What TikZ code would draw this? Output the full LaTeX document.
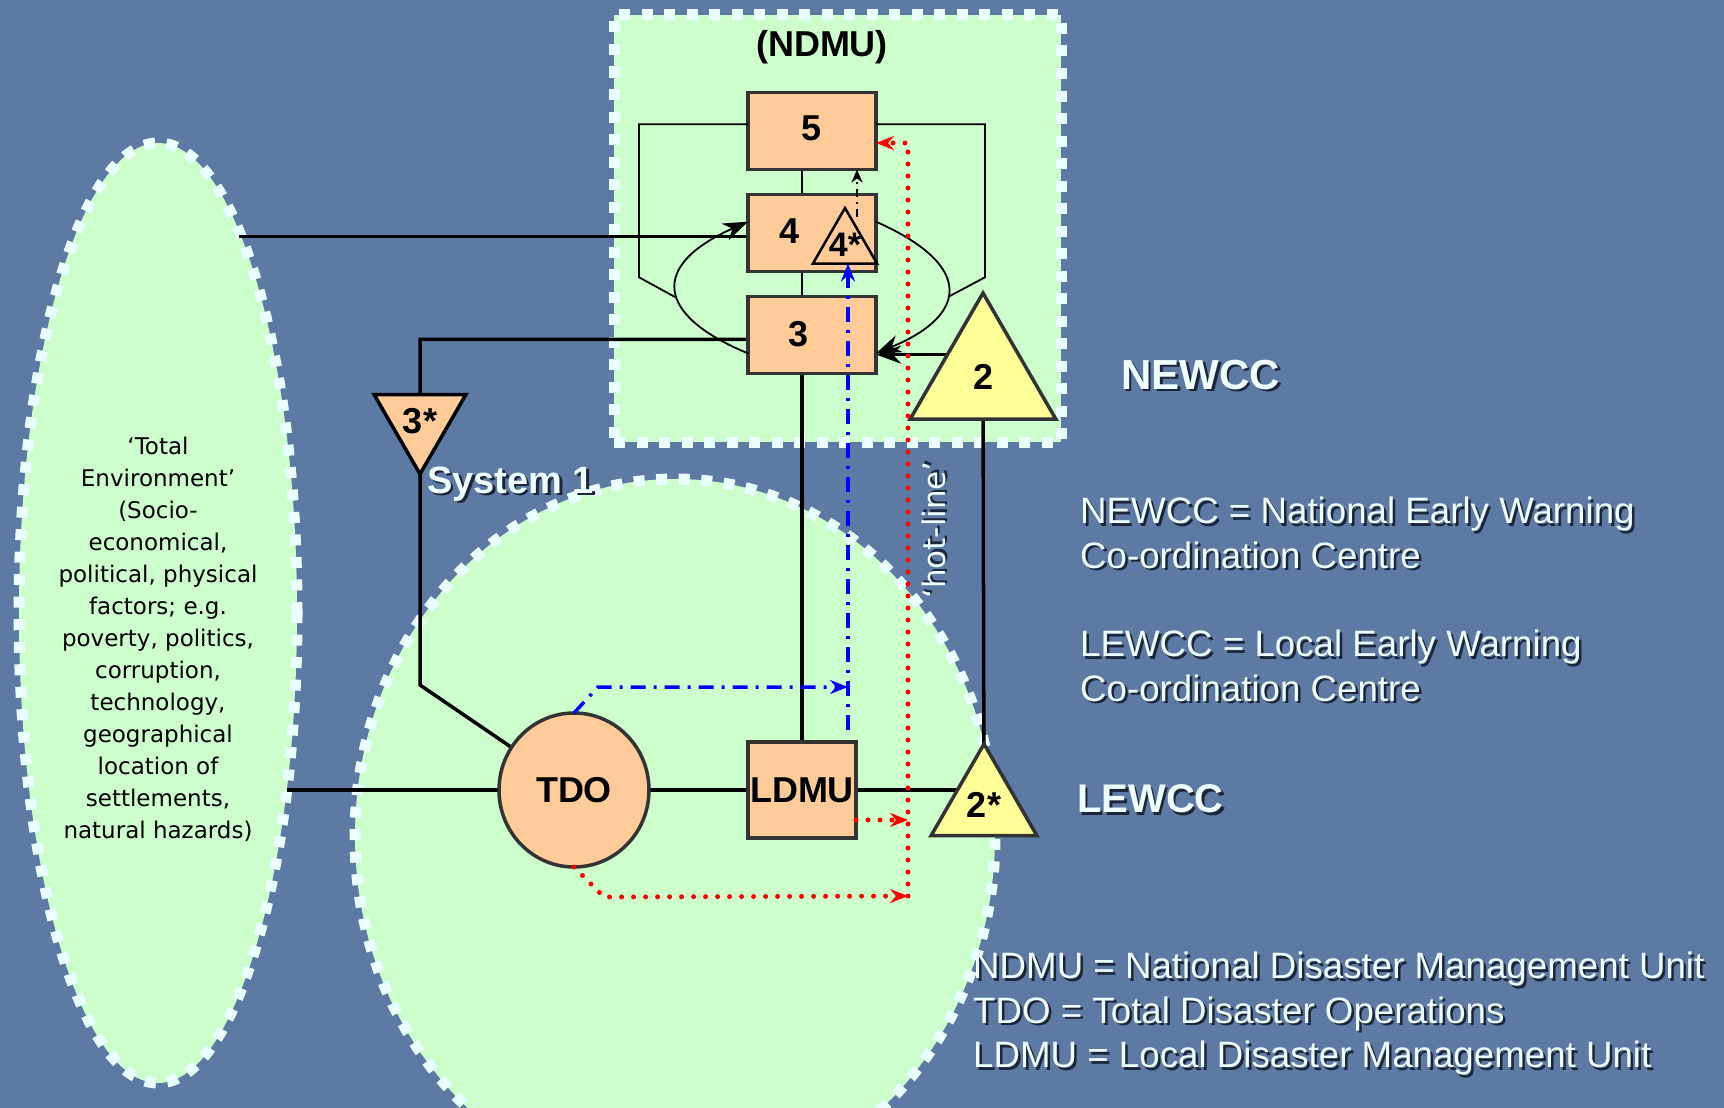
\documentclass[tikz,border=0pt]{standalone}
\usepackage{fontspec}
\setmainfont{Liberation Sans}
\newfontfamily\verdfont{DejaVu Sans}
\usetikzlibrary{arrows.meta,positioning,calc,shapes.geometric,backgrounds}
\definecolor{slate}{RGB}{92,122,164}
\definecolor{zonegreen}{RGB}{204,255,204}
\definecolor{dashwhite}{RGB}{234,255,255}
\definecolor{peach}{RGB}{255,204,153}
\definecolor{lemon}{RGB}{255,255,153}
\definecolor{edge}{RGB}{51,51,51}
\definecolor{shade}{RGB}{28,38,58}
\definecolor{paper}{RGB}{238,255,255}
\newcommand{\shd}[1]{\leavevmode\rlap{\kern2.5pt\raisebox{-2.5pt}{\color{shade}#1}}#1}
\newcommand{\labfont}{\fontsize{36}{40}\selectfont\bfseries}
\newcommand{\deffont}{\fontsize{36.7}{44.5}\selectfont}

\begin{document}
\begin{tikzpicture}[x=1pt,y=-1pt,
box/.style={rectangle,draw=edge,line width=3.5pt,fill=peach,outer sep=0pt,inner sep=0pt,
  minimum width=128pt,minimum height=77pt,font=\labfont},
tri/.style={regular polygon,regular polygon sides=3,draw=edge,line width=3.5pt,
  inner sep=0pt,outer sep=0pt,font=\labfont},
zone/.style={draw=dashwhite,fill=zonegreen,line width=11pt,dash pattern=on 11pt off 11.5pt,
  inner sep=0pt,outer sep=0pt},
wire/.style={line width=3.5pt},
fine/.style={line width=1.8pt},
hot/.style={red,line width=5pt,line cap=round,dash pattern=on 0pt off 12pt},
alert/.style={blue,line width=3.5pt,dash pattern=on 15pt off 8pt on 3pt off 8pt},
probe/.style={line width=2.5pt,dash pattern=on 8pt off 5pt on 2pt off 5pt},
whitetext/.style={text=paper,inner sep=0pt,anchor=west},
>={Stealth[length=25pt,width=18pt,inset=8pt]}]
\useasboundingbox (0,0) rectangle (1724,1108);
\node[box] (box5) at (812,131) {\raisebox{5pt}{5}};
\node[box] (box4) at (812,233) {\raisebox{4pt}{4}\hspace*{44pt}};
\node[box] (box3) at (812,335) {\raisebox{3pt}{3}\hspace*{26pt}};
\node[tri,draw=black,line width=2.5pt,minimum size=74pt,
  label={[font=\fontsize{34}{36}\selectfont\bfseries,inner sep=0pt]center:4*}] (t4s) at (845,245) {};
\node[tri,fill=lemon,minimum size=168pt] (t2) at (983,377) {2};
\node[tri,fill=lemon,minimum size=122pt] (t2s) at (984,805) {2*};
\node[tri,fill=peach,draw=black,shape border rotate=180,minimum size=106pt] (t3s) at (420,421) {3*};
\node[ellipse,draw=edge,line width=3.5pt,fill=peach,minimum width=150pt,minimum height=154pt,
  inner sep=0pt,outer sep=0pt,font=\labfont] (tdo) at (574,790) {TDO};
\node[box,minimum width=108pt,minimum height=96pt] (ldmu) at (802,790) {LDMU};
\coordinate (k3) at (420,685);
\coordinate (k4) at (857,217);
\coordinate (bh) at (848,687);
\coordinate (bl) at (848,730);
\coordinate (hb) at (908,896);
\coordinate (ht) at (908,143);
\coordinate (lj) at (675,297);
\coordinate (rj) at (948,297);

\begin{scope}[on background layer]
\fill[slate] (0,0) rectangle (1724,1108);
\node[zone,ellipse,minimum width=278pt,minimum height=940pt] (env) at (158,613) {};
\node[zone,ellipse,minimum width=640pt,minimum height=714pt] (sys) at (675,836) {};
\node[zone,rectangle,minimum width=447pt,minimum height=427pt] (ndmu) at (837.5,228.5) {};
\draw[wire] (box4.183 -| env.78) -- (box4.183);
\draw[wire] (tdo -| env.-54) -- (tdo) -- (ldmu) -- (ldmu -| t2s);
\draw[wire] (box3.184) -| (t3s) -- (k3) -- (tdo);
\draw[wire] (ldmu.north) -- (ldmu.north |- box3.south);
\draw[wire,->] (box3.-17 -| t2) -- (box3.-17);
\draw[wire] (t2) -- (t2s);
\draw[line width=2pt] (box5.south -| ldmu) -- (box4.north -| ldmu);
\draw[line width=2pt] (box4.south -| ldmu) -- (box3.north -| ldmu);
\end{scope}

\draw[fine] (box5.174) -| ++(-109,153) -- (lj);
\draw[fine] (box5.6) -| ++(109,153) -- (rj);
\draw[fine,->] (box3.196) .. controls (655,315) and (650,265) .. (box4.170);
\draw[fine,->] (box4.10) .. controls (974,265) and (969,315) .. (box3.-16);
\draw[probe,-{Stealth[length=13pt,width=11pt,inset=4pt]}] (k4) -- (k4 |- box5.south);
\draw[alert,-{Stealth[length=18pt,width=14pt,inset=6pt]}] (tdo.north) -- ++(24,-26) -- (bh);
\draw[alert,-{Stealth[length=18pt,width=14pt,inset=6pt]}] (bl) -- (bl |- t4s.side 2);
\draw[hot,-{Stealth[length=18pt,width=14pt,inset=6pt]}] (tdo.south) -- ++(30,30) -- (hb);
\draw[hot,-{Stealth[length=18pt,width=14pt,inset=6pt]}] (ldmu.-29) -- (ldmu.-29 -| hb);
\draw[hot,-{Stealth[length=18pt,width=14pt,inset=6pt]}] (hb) -- (ht) -- (ht -| box5.east);

\node[font=\labfont,inner sep=0pt] (ndmutitle) at (822,47) {(NDMU)};
\node[whitetext,font=\fontsize{38}{40}\selectfont\bfseries] (sys1) at (427,485) {\shd{System 1}};
\node[whitetext,font=\fontsize{42}{44}\selectfont\bfseries] (newcc) at (1121,376) {\shd{NEWCC}};
\node[whitetext,font=\fontsize{40}{44}\selectfont\bfseries] (lewcc) at (1077,800) {\shd{LEWCC}};
\node[text=paper,inner sep=0pt,rotate=90,font={\verdfont\fontsize{31}{33}\selectfont}] (hotline) at (935,530) {\shd{‘hot-line’}};
\node[whitetext,font=\deffont,align=left] (newdef) at (1080,534)
  {\shd{NEWCC = National Early Warning}\\\shd{Co-ordination Centre}};
\node[whitetext,font=\deffont,align=left] (lewdef) at (1080,667)
  {\shd{LEWCC = Local Early Warning}\\\shd{Co-ordination Centre}};
\node[whitetext,font=\deffont,align=left] (abbr) at (973,1015)
  {\shd{NDMU = National Disaster Management Unit}\\\shd{TDO = Total Disaster Operations}\\\shd{LDMU = Local Disaster Management Unit}};
\node[inner sep=0pt,align=center,font={\verdfont\fontsize{23}{32}\selectfont}] (envtext) at (158,639)
  {‘Total\\Environment’\\(Socio-\\economical,\\political, physical\\factors; e.g.\\poverty, politics,\\corruption,\\technology,\\geographical\\location of\\settlements,\\natural hazards)};
\end{tikzpicture}
\end{document}
